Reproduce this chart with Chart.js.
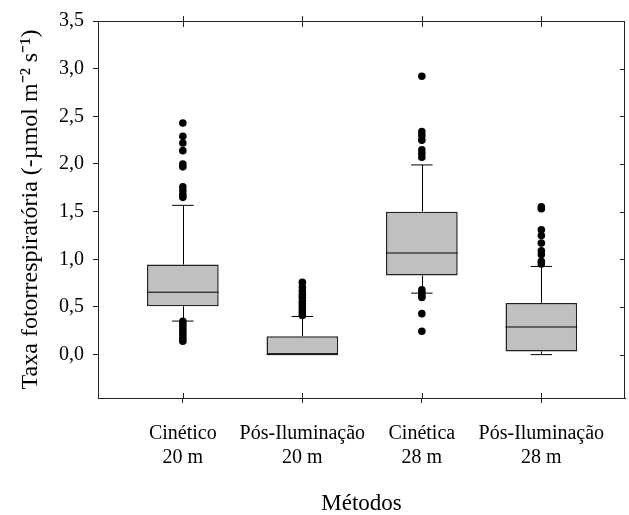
<!DOCTYPE html>
<html>
<head>
<meta charset="utf-8">
<script src="https://cdn.jsdelivr.net/npm/chart.js@4"></script>
<style>
  html, body { margin: 0; padding: 0; background: #fff; }
  #wrap { width: 629px; height: 515px; }
</style>
</head>
<body>
<div id="wrap"><canvas id="grafik"></canvas></div>
<script>
const categorias = [['Cinético', '20 m'], ['Pós-Iluminação', '20 m'], ['Cinética', '28 m'], ['Pós-Iluminação', '28 m']];
const posicoes = [1, 2, 3, 4];
const q1 = [0.507, 0.0, 0.83, 0.034];
const q3 = [0.945, 0.193, 1.50, 0.541];
const medianas = [0.655, 0.0, 1.066, 0.29];
const bigodeMin = [0.352, 0.0, 0.645, 0.0];
const bigodeMax = [1.566, 0.40, 1.99, 0.925];
const outliers1 = [2.43, 2.29, 2.22, 2.14, 2.00, 1.97, 1.76, 1.72, 1.68, 1.65, 0.35, 0.32, 0.29, 0.26, 0.23, 0.20, 0.17, 0.14];
const outliers2 = [0.76, 0.71, 0.67, 0.63, 0.60, 0.56, 0.53, 0.50, 0.47, 0.44, 0.41];
const outliers3 = [2.92, 2.34, 2.30, 2.25, 2.15, 2.11, 2.07, 0.68, 0.65, 0.62, 0.60, 0.43, 0.245];
const outliers4 = [1.55, 1.53, 1.31, 1.25, 1.17, 1.09, 1.05, 0.98, 0.95];
const yTicks = [0, 0.5, 1.0, 1.5, 2.0, 2.5, 3.0, 3.5];

const fonte = 'Liberation Serif, Times New Roman, serif';

const caixas = posicoes.map((x, i) => ({ x: x, y: [q1[i], q3[i]] }));
const pontos = [];
[outliers1, outliers2, outliers3, outliers4].forEach((lista, i) => {
    lista.forEach(v => pontos.push({ x: posicoes[i], y: v }));
});

// bigodes e medianas, desenhados pelas escalas do grafico
const bigodes = {
    id: 'bigodes',
    afterDatasetDraw(chart, args) {
        if (args.index !== 0) return;
        const ctx = chart.ctx;
        const sx = chart.scales.x, sy = chart.scales.y;
        const meta = chart.getDatasetMeta(0);
        ctx.save();
        ctx.strokeStyle = '#000';
        ctx.lineWidth = 1;
        posicoes.forEach((p, i) => {
            const cx = Math.round(sx.getPixelForValue(p)) + 0.5;
            const capL = sx.getPixelForValue(p - 0.09), capR = sx.getPixelForValue(p + 0.09);
            const yHi = sy.getPixelForValue(bigodeMax[i]), yLo = sy.getPixelForValue(bigodeMin[i]);
            const yQ3 = sy.getPixelForValue(q3[i]), yQ1 = sy.getPixelForValue(q1[i]);
            ctx.beginPath();
            ctx.moveTo(cx, yQ3); ctx.lineTo(cx, yHi);
            ctx.moveTo(capL, yHi); ctx.lineTo(capR, yHi);
            if (bigodeMin[i] < q1[i]) {
                ctx.moveTo(cx, yQ1); ctx.lineTo(cx, yLo);
                ctx.moveTo(capL, yLo); ctx.lineTo(capR, yLo);
            }
            const bar = meta.data[i];
            const half = bar.width / 2;
            const ym = sy.getPixelForValue(medianas[i]);
            ctx.moveTo(bar.x - half, ym); ctx.lineTo(bar.x + half, ym);
            ctx.stroke();
        });
        ctx.restore();
    }
};

// moldura e marcas nos eixos de cima e da direita
const moldura = {
    id: 'moldura',
    afterDraw(chart) {
        const ctx = chart.ctx;
        const a = chart.chartArea;
        const sx = chart.scales.x, sy = chart.scales.y;
        ctx.save();
        ctx.strokeStyle = '#222';
        ctx.lineWidth = 1;
        ctx.strokeRect(a.left + 0.5, a.top + 0.5, a.right - a.left - 1, a.bottom - a.top);
        ctx.beginPath();
        posicoes.forEach(p => {
            const x = Math.round(sx.getPixelForValue(p)) + 0.5;
            ctx.moveTo(x, a.top - 5); ctx.lineTo(x, a.top + 6);
            ctx.moveTo(x, a.bottom); ctx.lineTo(x, a.bottom - 5);
        });
        yTicks.forEach(v => {
            const y = Math.round(sy.getPixelForValue(v)) + 0.5;
            ctx.moveTo(a.right, y); ctx.lineTo(a.right - 5, y);
        });
        ctx.stroke();
        ctx.restore();
    }
};

new Chart(document.getElementById('grafik').getContext('2d'), {
    type: 'bar',
    data: {
        datasets: [
            {
                type: 'bar',
                data: caixas,
                backgroundColor: '#c0c0c0',
                borderColor: '#222',
                borderWidth: 1.5,
                borderSkipped: false,
                barPercentage: 0.6,
                categoryPercentage: 1,
                order: 2
            },
            {
                type: 'scatter',
                data: pontos,
                backgroundColor: '#000',
                borderColor: '#000',
                pointRadius: 3.8,
                borderWidth: 0,
                order: 1
            }
        ]
    },
    options: {
        responsive: true,
        maintainAspectRatio: false,
        animation: false,
        layout: { padding: { top: 16, right: 2, left: 0, bottom: 0 } },
        plugins: {
            legend: { display: false },
            tooltip: { enabled: false }
        },
        scales: {
            x: {
                type: 'linear',
                offset: false,
                min: 0.29,
                max: 4.7,
                afterBuildTicks: s => { s.ticks = posicoes.map(v => ({ value: v })); },
                afterFit: s => { s.height = 117; },
                ticks: {
                    color: '#000',
                    font: { family: fonte, size: 20 },
                    padding: 19,
                    maxRotation: 0,
                    autoSkip: false,
                    callback: v => categorias[posicoes.indexOf(v)]
                },
                grid: { drawOnChartArea: false, offset: false, tickLength: 5, color: '#222' },
                border: { color: '#222', width: 1 },
                title: {
                    display: true,
                    text: 'Métodos',
                    color: '#000',
                    font: { family: fonte, size: 23, lineHeight: 1 },
                    padding: { top: 0, bottom: 0 }
                }
            },
            y: {
                type: 'linear',
                min: -0.455,
                max: 3.5,
                afterBuildTicks: s => { s.ticks = yTicks.map(v => ({ value: v })); },
                afterFit: s => { s.width = 98; },
                ticks: {
                    color: '#000',
                    font: { family: fonte, size: 20 },
                    padding: 9,
                    callback: v => v.toFixed(1).replace('.', ',')
                },
                grid: { drawOnChartArea: false, tickLength: 5, color: '#222' },
                border: { color: '#222', width: 1 },
                title: {
                    display: true,
                    text: 'Taxa fotorrespiratória (-µmol m⁻² s⁻¹)',
                    color: '#000',
                    font: { family: fonte, size: 24 },
                    padding: { top: 16, bottom: 0 }
                }
            }
        }
    },
    plugins: [bigodes, moldura]
});
</script>
</body>
</html>
